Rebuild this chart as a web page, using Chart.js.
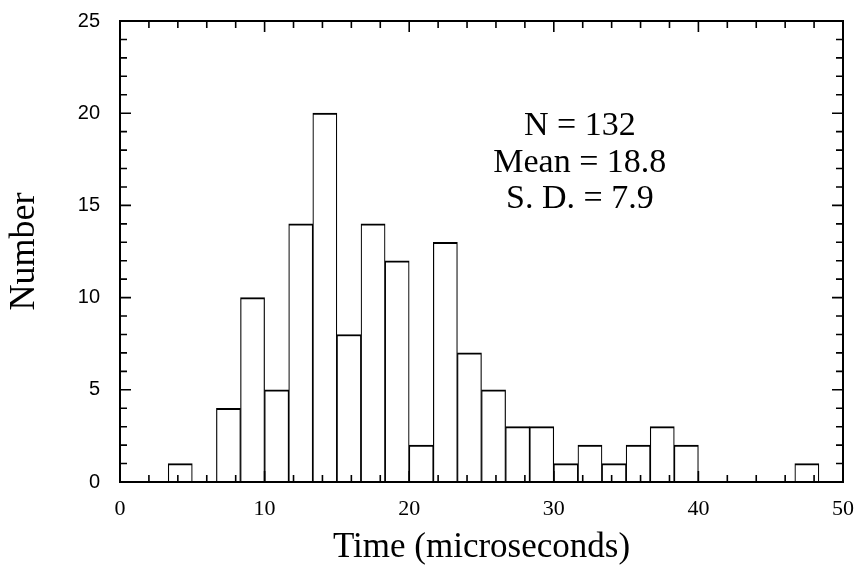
<!DOCTYPE html>
<html>
<head>
<meta charset="utf-8">
<script src="https://cdn.jsdelivr.net/npm/chart.js@4"></script>
<style>
  html, body { margin: 0; padding: 0; background: #fff; }
</style>
</head>
<body>
<canvas id="histChart" width="857" height="565"></canvas>
<script>
// histogram bins (lower edge, microseconds) and counts
const binStarts = [0, 1.667, 3.333, 5, 6.667, 8.333, 10, 11.667, 13.333, 15,
  16.667, 18.333, 20, 21.667, 23.333, 25, 26.667, 28.333, 30, 31.667,
  33.333, 35, 36.667, 38.333, 40, 41.667, 43.333, 45, 46.667, 48.333];
const binWidth = 1.667;
const counts = [0, 0, 1, 0, 4, 10, 5, 14, 20, 8,
  14, 12, 2, 13, 7, 5, 3, 3, 1, 2,
  1, 2, 3, 2, 0, 0, 0, 0, 1, 0];

const xTicks = [0, 10, 20, 30, 40, 50];
const yTicks = [0, 5, 10, 15, 20, 25];
const statsLines = ["N = 132", "Mean = 18.8", "S. D. = 7.9"];

const serif = "'Liberation Serif', 'Times New Roman', serif";
const sans = "'Liberation Sans', Arial, sans-serif";

// frame, inward tick marks and the stats text
const framePlugin = {
  id: 'frame',
  afterDatasetsDraw(chart){
    const ctx = chart.ctx;
    const a = chart.chartArea;
    const xs = chart.scales.x;
    const ys = chart.scales.y;
    ctx.save();
    ctx.strokeStyle = '#000';
    ctx.lineWidth = 1.6;
    ctx.beginPath();
    for (let v = 0; v <= 50; v += 2) {
      const px = xs.getPixelForValue(v);
      const len = v % 10 === 0 ? 11 : 7;
      ctx.moveTo(px, a.bottom); ctx.lineTo(px, a.bottom - len);
      ctx.moveTo(px, a.top); ctx.lineTo(px, a.top + len);
    }
    for (let v = 0; v <= 25; v += 1) {
      const py = ys.getPixelForValue(v);
      const len = v % 5 === 0 ? 11 : 7;
      ctx.moveTo(a.left, py); ctx.lineTo(a.left + len, py);
      ctx.moveTo(a.right, py); ctx.lineTo(a.right - len, py);
    }
    ctx.stroke();
    ctx.lineWidth = 2;
    ctx.strokeRect(a.left, a.top, a.right - a.left, a.bottom - a.top);

    ctx.fillStyle = '#000';
    ctx.font = '34px ' + serif;
    ctx.textAlign = 'center';
    ctx.textBaseline = 'alphabetic';
    const cx = xs.getPixelForValue(31.8);
    const cy = ys.getPixelForValue(18.8);
    statsLines.forEach((line, i) => {
      ctx.fillText(line, cx, cy + i * 36.5);
    });
    ctx.restore();
  }
};

const whiteBg = {
  id: 'whiteBg',
  beforeDraw(chart){
    const ctx = chart.ctx;
    ctx.save();
    ctx.fillStyle = '#fff';
    ctx.fillRect(0, 0, chart.width, chart.height);
    ctx.restore();
  }
};

new Chart(document.getElementById('histChart'), {
  type: 'bar',
  data: {
    datasets: [{
      data: binStarts.map((s, i) => ({ x: s + binWidth / 2, y: counts[i] })),
      backgroundColor: '#fff',
      borderColor: '#000',
      borderWidth: { top: 2, left: 1.2, right: 1.2, bottom: 0 },
      borderSkipped: 'start',
      barPercentage: 1,
      categoryPercentage: 1
    }]
  },
  options: {
    responsive: false,
    animation: false,
    devicePixelRatio: 1,
    layout: { padding: { top: 21, right: 14, left: 0, bottom: 0 } },
    plugins: {
      legend: { display: false },
      tooltip: { enabled: false }
    },
    scales: {
      x: {
        type: 'linear',
        min: 0,
        max: 50,
        offset: false,
        grid: { display: false, drawTicks: false },
        border: { display: false },
        afterBuildTicks: s => { s.ticks = xTicks.map(v => ({ value: v })); },
        afterFit: s => {
          s.height = 83;
          s.paddingLeft = 0;
          s.paddingRight = 0;
        },
        ticks: {
          color: '#000',
          padding: 14,
          maxRotation: 0,
          font: { family: serif, size: 22 }
        },
        title: {
          display: true,
          text: 'Time (microseconds)',
          color: '#000',
          font: { family: serif, size: 35, lineHeight: 1 },
          padding: { top: 0, bottom: 0 }
        }
      },
      y: {
        min: 0,
        max: 25,
        grid: { display: false, drawTicks: false },
        border: { display: false },
        afterBuildTicks: s => { s.ticks = yTicks.map(v => ({ value: v })); },
        afterFit: s => {
          s.width = 120;
          s.paddingTop = 0;
          s.paddingBottom = 0;
        },
        ticks: {
          color: '#000',
          padding: 20,
          font: { family: sans, size: 20 }
        },
        title: {
          display: true,
          text: 'Number',
          color: '#000',
          font: { family: serif, size: 36, lineHeight: 1.2 },
          padding: { top: 3, bottom: 0 }
        }
      }
    }
  },
  plugins: [whiteBg, framePlugin]
});
</script>
</body>
</html>
